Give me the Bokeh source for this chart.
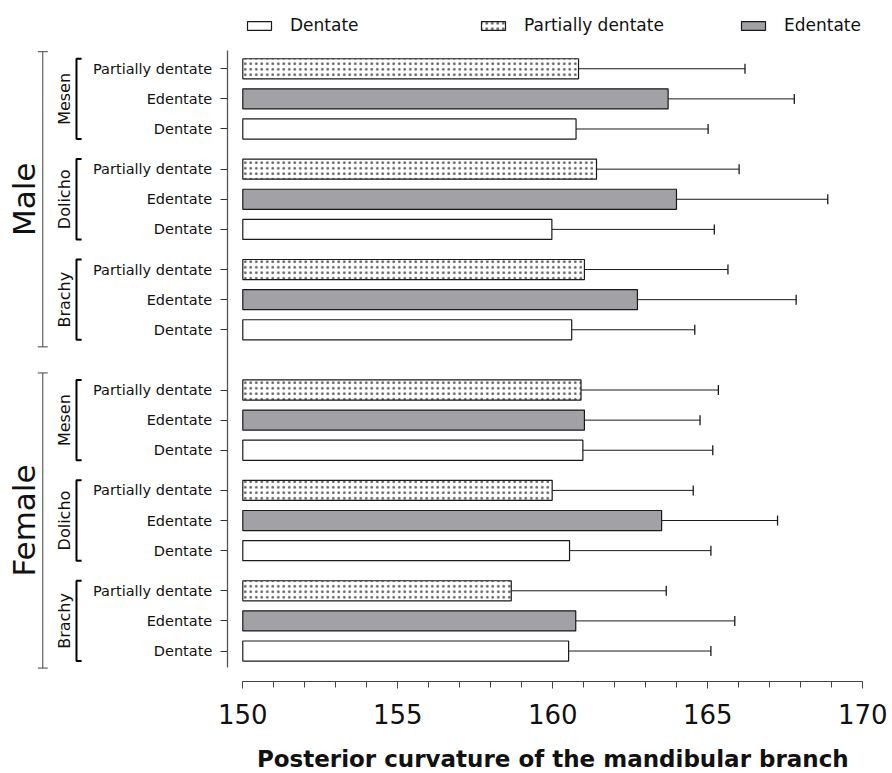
import math

from bokeh.core.properties import value
from bokeh.embed import file_html
from bokeh.models import (ColumnDataSource, FixedTicker, Legend, LegendItem,
                          LinearAxis, Range1d, SingleIntervalTicker, TeeHead,
                          Whisker)
from bokeh.plotting import figure
from bokeh.resources import INLINE

# ---------------------------------------------------------------- data
sexes = ["Male", "Female"]
facial_types = ["Mesen", "Dolicho", "Brachy"]
# order of the bars inside each facial-type block, top to bottom
dental_status = ["Partially dentate", "Edentate", "Dentate"]

# mean and SD of the posterior curvature, per facial type block
# (Mesen x3, Dolicho x3, Brachy x3), in dental_status order
male_mean = [160.83, 163.72, 160.75, 161.41, 163.99, 159.97, 161.02, 162.73, 160.61]
male_sd = [5.37, 4.07, 4.26, 4.60, 4.88, 5.24, 4.63, 5.12, 3.97]
female_mean = [160.91, 161.02, 160.97, 159.98, 163.51, 160.54, 158.66, 160.74, 160.51]
female_sd = [4.43, 3.73, 4.19, 4.55, 3.74, 4.56, 5.00, 5.13, 4.59]

x_ticks_interval = 5
x_axis_bounds = (150, 170)
x_title = "Posterior curvature of the mandibular branch"

# ---------------------------------------------------------------- style
FONT = "DejaVu Sans"
INK = "#1a1a1a"
styles = {
    "Dentate": dict(fill="white", hatch=" "),
    "Partially dentate": dict(fill="white", hatch="."),
    "Edentate": dict(fill="#a2a2a6", hatch=" "),
}

# vertical layout (one unit = a third of the bar pitch)
ROW_STEP, GROUP_GAP, SEX_GAP = 3, 1, 3
BAR_H = 2

rows = []  # (y, sex, facial type, status, mean, sd)
pos = 0
for si, sex in enumerate(sexes):
    means = male_mean if sex == "Male" else female_mean
    sds = male_sd if sex == "Male" else female_sd
    if si:
        pos += SEX_GAP
    for gi, ftype in enumerate(facial_types):
        if gi:
            pos += GROUP_GAP
        for di, status in enumerate(dental_status):
            k = gi * len(dental_status) + di
            rows.append((pos, sex, ftype, status, means[k], sds[k]))
            pos += ROW_STEP

ys = [r[0] for r in rows]
AXIS_Y = ys[-1] + ROW_STEP

p = figure(width=892, height=773, output_backend="svg", toolbar_location=None,
           x_axis_type=None, y_axis_type=None, min_border=0,
           x_range=Range1d(142.184, 170.958), y_range=Range1d(70.2, -6.8))
p.title.visible = False
p.outline_line_color = None
p.xgrid.visible = False
p.ygrid.visible = False
p.background_fill_color = "white"
p.border_fill_color = "white"

# ---------------------------------------------------------------- bars
renderers = {}
for status in dental_status:
    sel = [r for r in rows if r[3] == status]
    src = ColumnDataSource(dict(y=[r[0] for r in sel], mean=[r[4] for r in sel]))
    st = styles[status]
    renderers[status] = p.hbar(
        y="y", left=x_axis_bounds[0], right="mean", height=BAR_H, source=src,
        fill_color=st["fill"], line_color=INK, line_width=1.2,
        hatch_pattern=st["hatch"], hatch_color="#444444", hatch_alpha=0.85,
        hatch_scale=5.5, hatch_weight=0.5)

# one-sided SD whiskers
wsrc = ColumnDataSource(dict(y=ys, lower=[r[4] for r in rows],
                             upper=[r[4] + r[5] for r in rows]))
p.add_layout(Whisker(source=wsrc, base="y", lower="lower", upper="upper",
                     dimension="width", line_color=INK, line_width=1,
                     lower_head=None,
                     upper_head=TeeHead(size=10, line_color=INK, line_width=1.3)))

# ---------------------------------------------------------------- axes
xaxis = LinearAxis(
    ticker=SingleIntervalTicker(interval=x_ticks_interval, num_minor_ticks=5),
    fixed_location=AXIS_Y, bounds=x_axis_bounds,
    axis_line_color="#444444", axis_line_width=1.2,
    major_tick_line_color="#444444", minor_tick_line_color="#444444",
    major_tick_out=7, major_tick_in=0, minor_tick_out=6, minor_tick_in=0,
    major_label_standoff=16, major_label_text_font=FONT,
    major_label_text_font_size="26px", major_label_text_color="#111111")
p.add_layout(xaxis, "below")

yaxis = LinearAxis(
    ticker=FixedTicker(ticks=ys), fixed_location=x_axis_bounds[0] - 0.5,
    bounds=(ys[0] - 1.8, ys[-1] + 1.6),
    major_label_overrides={r[0]: r[3] for r in rows},
    axis_line_color="#555555", axis_line_width=1.3,
    major_tick_line_color="#333333", major_tick_out=7, major_tick_in=0,
    minor_tick_line_color=None, major_label_standoff=8,
    major_label_text_font=FONT, major_label_text_font_size="14.5px",
    major_label_text_color="#111111")
p.add_layout(yaxis, "left")

p.text(x=[160], y=[AXIS_Y + 7.8], text=[x_title], text_align="center",
       text_baseline="middle", text_font=value(FONT), text_font_size="23px",
       text_font_style="bold", text_color="#111111")

# ---------------------------------------------------------------- grouping brackets
GROUP_LABEL_X, GROUP_BRACKET_X, GROUP_CAP_X = 144.25, 144.635, 144.80
SEX_LABEL_X, SEX_BRACKET_X = 142.94, 143.548

g_xs, g_ys, g_lab_y, g_lab = [], [], [], []
for si, sex in enumerate(sexes):
    for ftype in facial_types:
        yy = [r[0] for r in rows if r[1] == sex and r[2] == ftype]
        top, bot = min(yy) - BAR_H / 2, max(yy) + BAR_H / 2
        g_xs.append([GROUP_CAP_X, GROUP_BRACKET_X, GROUP_BRACKET_X, GROUP_CAP_X])
        g_ys.append([top, top, bot, bot])
        g_lab_y.append((min(yy) + max(yy)) / 2)
        g_lab.append(ftype)
p.multi_line(xs=g_xs, ys=g_ys, line_color="black", line_width=2)
p.text(x=[GROUP_LABEL_X] * len(g_lab), y=g_lab_y, text=g_lab, angle=math.pi / 2,
       text_align="center", text_baseline="middle", text_font=value(FONT),
       text_font_size="16px", text_color="#111111")

s_lower, s_upper, s_mid = [], [], []
for sex in sexes:
    yy = [r[0] for r in rows if r[1] == sex]
    s_lower.append(min(yy) - 1.7)
    s_upper.append(max(yy) + 1.7)
    s_mid.append((min(yy) + max(yy)) / 2)
ssrc = ColumnDataSource(dict(x=[SEX_BRACKET_X] * 2, lower=s_lower, upper=s_upper))
p.add_layout(Whisker(source=ssrc, base="x", lower="lower", upper="upper",
                     dimension="height", line_color="#444444", line_width=1,
                     lower_head=TeeHead(size=10, line_color="#444444", line_width=1),
                     upper_head=TeeHead(size=10, line_color="#444444", line_width=1)))
p.text(x=[SEX_LABEL_X] * 2, y=s_mid, text=sexes, angle=math.pi / 2,
       text_align="center", text_baseline="middle", text_font=value(FONT),
       text_font_size="31px", text_color="#111111")

# ---------------------------------------------------------------- legend
for label, left in [("Dentate", 244), ("Partially dentate", 478), ("Edentate", 738)]:
    leg = Legend(items=[LegendItem(label=label, renderers=[renderers[label]])],
                 location=(left, 738), orientation="horizontal",
                 glyph_width=30, glyph_height=11, label_standoff=16,
                 padding=0, margin=0, border_line_color=None,
                 background_fill_alpha=0, label_text_font=FONT,
                 label_text_font_size="17px", label_text_color="#111111")
    p.add_layout(leg, "center")

open("out.html", "w").write(file_html(p, INLINE))
